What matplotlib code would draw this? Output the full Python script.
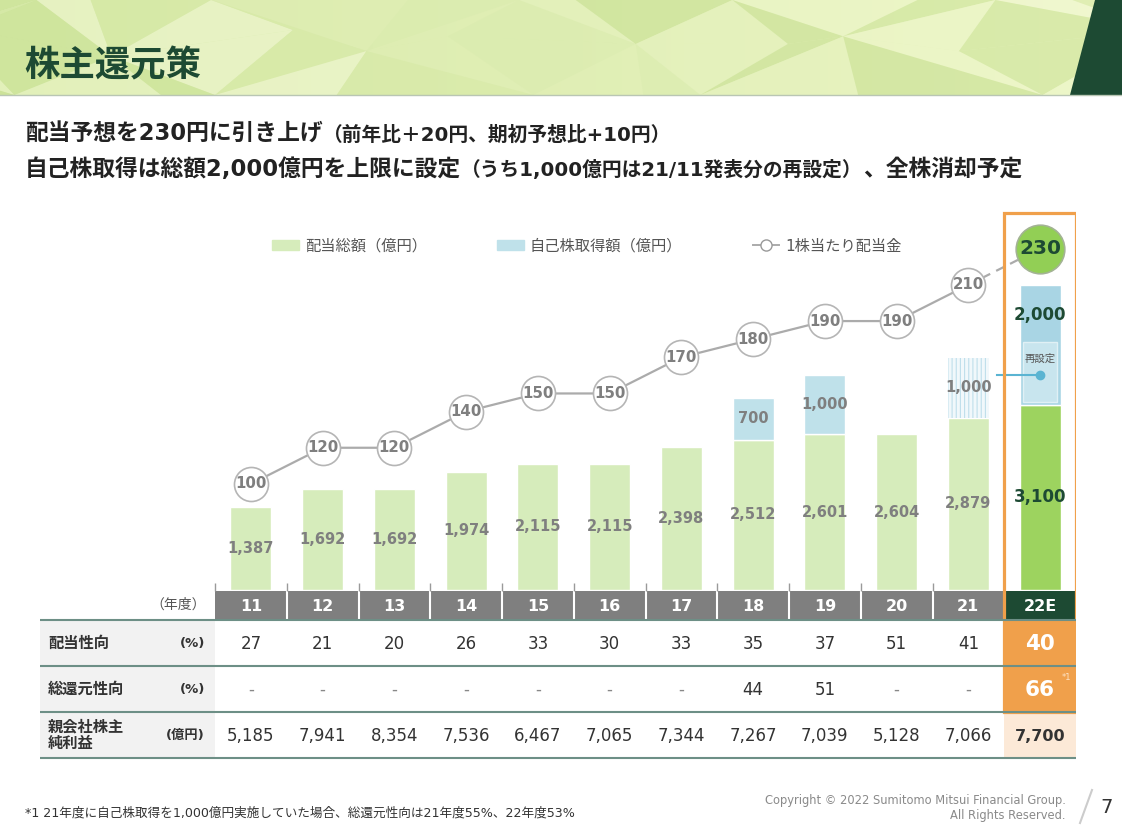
import numpy as np
import matplotlib.pyplot as plt
from matplotlib.patches import Rectangle, Polygon, Patch
from matplotlib.lines import Line2D
from matplotlib.colors import to_rgb

# 日本語はNoto、数字はDejaVu（Verdana風）
plt.rcParams['font.family'] = ['DejaVu Sans', 'Noto Sans CJK JP']
plt.rcParams['hatch.linewidth'] = 0.8

W, H = 1122, 830

# データ
years = ['11', '12', '13', '14', '15', '16', '17', '18', '19', '20', '21', '22E']
div_total = [1387, 1692, 1692, 1974, 2115, 2115, 2398, 2512, 2601, 2604, 2879, 3100]
buyback = [0, 0, 0, 0, 0, 0, 0, 700, 1000, 0, 1000, 2000]
buyback_kind = ['', '', '', '', '', '', '', 'done', 'done', '', 'reset', 'plan']
reset_amt = 1000  # 22Eのうち21/11発表分の再設定
dps = [100, 120, 120, 140, 150, 150, 170, 180, 190, 190, 210, 230]
payout = ['27', '21', '20', '26', '33', '30', '33', '35', '37', '51', '41', '40']
total_payout = ['-', '-', '-', '-', '-', '-', '-', '44', '51', '-', '-', '66']
net_income = [5185, 7941, 8354, 7536, 6467, 7065, 7344, 7267, 7039, 5128, 7066, 7700]

row_labels = ['配当性向', '総還元性向', '親会社株主\n純利益']
row_units = ['(%)', '(%)', '(億円)']
legend_labels = ['配当総額（億円）', '自己株取得額（億円）', '1株当たり配当金']

LIGHT_G = '#d6ecbb'
DARK_G = '#9dd35f'
BLUE = '#bfe1ea'
BLUE2 = '#a9d5e4'
ORANGE = '#f0a04b'
PEACH = '#fce9d7'
DEEP = '#1d4a33'
GRAY_TXT = '#7f7f7f'

fig = plt.figure(figsize=(11.22, 8.3), dpi=100)

# 背景（ヘッダー）
bg = fig.add_axes([0, 0, 1, 1])
bg.set_xlim(0, W)
bg.set_ylim(H, 0)
bg.axis('off')

c0, c1 = np.array(to_rgb('#d2e7a2')), np.array(to_rgb('#edf6c6'))
g = np.linspace(0, 1, 256)
grad = (c0 + (c1 - c0) * g[:, None])[None, :, :]
bg.imshow(grad, extent=(0, W, 95, 0), aspect='auto', zorder=0)

# ローポリ風の三角形
shades = ['#cde49a', '#e6f2bf', '#d8eaa8', '#eef7cb', '#dbecb0', '#f3f9d6', '#c8e093', '#e1efb6']
xs = np.arange(-130, W + 260, 125)
rows_y = [0, 42, 95]
pts = []
for i, xi in enumerate(xs):
    col = []
    for j in range(3):
        px = xi + 48 * np.sin(1.7 * i + 2.3 * j + 0.4)
        py = rows_y[j] + (16 * np.cos(2.9 * i) if j == 1 else 0)
        col.append((px, py))
    pts.append(col)
for i in range(len(xs) - 1):
    for j in range(2):
        a, b = pts[i][j], pts[i + 1][j]
        c, d = pts[i][j + 1], pts[i + 1][j + 1]
        k = (i * 5 + j * 3) % len(shades)
        tri1 = [a, b, c] if (i + j) % 2 == 0 else [a, b, d]
        tri2 = [b, d, c] if (i + j) % 2 == 0 else [a, d, c]
        bg.add_patch(Polygon(tri1, closed=True, color=shades[k], alpha=0.6, lw=0, zorder=1))
        bg.add_patch(Polygon(tri2, closed=True, color=shades[(k + 3) % len(shades)],
                             alpha=0.6, lw=0, zorder=1))
bg.add_patch(Polygon([(1095, 0), (W, 0), (W, 95), (1070, 95)], closed=True, color=DEEP, lw=0, zorder=2))
bg.plot([0, W], [95, 95], color='#b9c6b4', lw=1, zorder=2)
bg.text(24, 66, '株主還元策', fontsize=25.5, weight='bold', color=DEEP, va='center', zorder=3)

renderer = fig.canvas.get_renderer()


def chain(x, y, parts):
    for s, size in parts:
        t = bg.text(x, y, s, fontsize=size, weight='bold', color='#222', va='baseline')
        x += t.get_window_extent(renderer).width


chain(25, 141, [('配当予想を230円に引き上げ', 16.4), ('（前年比＋20円、期初予想比+10円）', 14.2)])
chain(25, 176, [('自己株取得は総額2,000億円を上限に設定', 16.4),
                ('（うち1,000億円は21/11発表分の再設定）', 14.2), ('、全株消却予定', 16.4)])

bg.text(25, 813, '*1 21年度に自己株取得を1,000億円実施していた場合、総還元性向は21年度55%、22年度53%',
        fontsize=9.1, color='#333', va='center')
bg.text(1066, 800, 'Copyright © 2022 Sumitomo Mitsui Financial Group.', fontsize=8.3,
        color='#8a8a8a', ha='right', va='center')
bg.text(1066, 815, 'All Rights Reserved.', fontsize=8.3, color='#8a8a8a', ha='right', va='center')
bg.plot([1080, 1092], [823, 790], color='#cccccc', lw=1.5)
bg.text(1107, 807, '7', fontsize=14, color='#333', ha='center', va='center')

# 棒グラフ
x = np.arange(len(years))
dv = np.array(div_total)
bb = np.array(buyback)

ax = fig.add_axes([215 / W, 240 / H, 861 / W, 390 / H])
ax.set_xlim(-0.5, 11.5)
ax.set_ylim(0, 390 / 0.0598)
ax.axis('off')
ax.patch.set_alpha(0)

bw = 0.57
div_colors = [LIGHT_G] * (len(years) - 1) + [DARK_G]
ax.bar(x, dv, width=bw, color=div_colors, edgecolor='white', linewidth=1)

done = [i for i, k in enumerate(buyback_kind) if k == 'done']
ax.bar(x[done], bb[done], bottom=dv[done], width=bw, color=BLUE, edgecolor='white', linewidth=1)
reset = [i for i, k in enumerate(buyback_kind) if k == 'reset']
ax.bar(x[reset], bb[reset], bottom=dv[reset], width=bw, facecolor='#f1f8fb', edgecolor='#bfdfeb',
       hatch='||||', linewidth=0)
plan = [i for i, k in enumerate(buyback_kind) if k == 'plan']
ax.bar(x[plan], bb[plan], bottom=dv[plan], width=bw, color=BLUE2, edgecolor='white', linewidth=1)
ax.bar(x[plan], reset_amt, bottom=dv[plan] + 40, width=0.48, color='#c8e5ee', edgecolor='#e0f0f5',
       linewidth=1)

for i in range(len(years)):
    if buyback_kind[i] == 'plan':
        ax.text(i, dv[i] / 2, f'{dv[i]:,}', ha='center', va='center', fontsize=12,
                weight='bold', color=DEEP)
        ax.text(i, dv[i] + reset_amt + (bb[i] - reset_amt) / 2, f'{bb[i]:,}', ha='center',
                va='center', fontsize=12, weight='bold', color=DEEP)
        ax.text(i, dv[i] + reset_amt * 0.76, '再設定', ha='center', va='center', fontsize=7.5,
                color='#555')
        ax.plot([reset[0] + 0.4, i], [dv[i] + reset_amt / 2] * 2, color='#5ab4d2', lw=1.5)
        ax.plot(i, dv[i] + reset_amt / 2, 'o', ms=6, color='#5ab4d2')
    else:
        ax.text(i, dv[i] / 2, f'{dv[i]:,}', ha='center', va='center', fontsize=10.5,
                weight='bold', color=GRAY_TXT)
        if bb[i] > 0:
            ax.text(i, dv[i] + bb[i] / 2, f'{bb[i]:,}', ha='center', va='center', fontsize=10.5,
                    weight='bold', color=GRAY_TXT)

# 1株当たり配当金
ax2 = ax.twinx()
ax2.set_ylim(41.4, 256.9)
ax2.axis('off')
d = np.array(dps)
ax2.plot(x[:-1], d[:-1], color='#ababab', lw=1.6, zorder=1)
ax2.plot(x[-2:], d[-2:], color='#ababab', lw=1.6, ls=(0, (4, 3)), zorder=1)
ax2.plot(x[:-1], d[:-1], 'o', ms=24.5, mfc='white', mec='#b5b5b5', mew=1.2, ls='none', zorder=2)
ax2.plot(x[-1], d[-1], 'o', ms=35, mfc='#92cf55', mec='#a3b394', mew=1.2, zorder=2)
for i in range(len(years) - 1):
    ax2.text(i, d[i], str(d[i]), ha='center', va='center', fontsize=10.8, weight='bold',
             color=GRAY_TXT, zorder=3)
ax2.text(x[-1], d[-1], str(d[-1]), ha='center', va='center', fontsize=14.5, weight='bold',
         color=DEEP, zorder=3)

handles = [Patch(color=LIGHT_G), Patch(color=BLUE),
           Line2D([], [], color='#ababab', lw=1.4, marker='o', ms=8, mfc='white', mec='#999')]
fig.legend(handles, legend_labels, loc='center left', bbox_to_anchor=(272 / W, 1 - 246 / H),
           ncol=3, frameon=False, fontsize=11, handlelength=1.75, handleheight=0.6,
           handletextpad=0.4, columnspacing=4.6, borderpad=0, borderaxespad=0, labelcolor='#555')

# 表
tab = fig.add_axes([40 / W, 0, 1036 / W, 1], zorder=5)
x_left = -0.5 - 175 / 71.75
tab.set_xlim(x_left, 11.5)
tab.set_ylim(H, 0)
tab.axis('off')
tab.patch.set_alpha(0)

n = len(years)
for i in range(n):
    tab.add_patch(Rectangle((i - 0.5, 591), 1, 28, color='#7f7f7f' if i < n - 1 else DEEP, lw=0))
    tab.text(i, 606, years[i], ha='center', va='center', color='white', weight='bold', fontsize=11.5)
tab.vlines(np.arange(0.5, n - 1.5, 1), 591, 619, color='white', lw=1.5)
tab.vlines(np.arange(-0.5, n - 1.5, 1), 583, 591, color='#9a9a9a', lw=1)
tab.text(-0.63, 605, '（年度）', ha='right', va='center', fontsize=10, color='#555')

tab.add_patch(Rectangle((x_left, 620), -0.5 - x_left, 138, color='#f2f2f2', lw=0))
tab.add_patch(Rectangle((n - 1.5, 620), 1, 92, color=ORANGE, lw=0))
tab.add_patch(Rectangle((n - 1.5, 712), 1, 46, color=PEACH, lw=0))

row_y = [643, 689, 735]
row_vals = [payout, total_payout, [f'{v:,}' for v in net_income]]
for r in range(3):
    tab.text(x_left + 0.11, row_y[r], row_labels[r], ha='left', va='center', fontsize=11,
             weight='bold', color='#333', linespacing=1.15)
    tab.text(-0.64, row_y[r], row_units[r], ha='right', va='center', fontsize=9.5,
             weight='bold', color='#333')
    for i in range(n - 1):
        v = row_vals[r][i]
        tab.text(i, row_y[r] + 1, v, ha='center', va='center', fontsize=12,
                 color='#888' if v == '-' else '#333')
    v = row_vals[r][n - 1]
    if r < 2:
        tab.text(n - 1, row_y[r] + 1, v, ha='center', va='center', fontsize=15.5,
                 weight='bold', color='white')
    else:
        tab.text(n - 1, row_y[r] + 1, v, ha='center', va='center', fontsize=11.5,
                 weight='bold', color='#333')
tab.text(n - 1 + 0.37, 677, '*1', ha='center', va='center', fontsize=6, color='#fde3c6')

tab.hlines([620, 666, 712, 758], x_left, 11.5, color='#6d8f86', lw=1.5)

# 22Eの枠
tab.add_patch(Rectangle((n - 1.5, 213), 1, 712 - 213, fill=False, edgecolor=ORANGE, lw=2.3))

fig.savefig('out.png', dpi=100)
